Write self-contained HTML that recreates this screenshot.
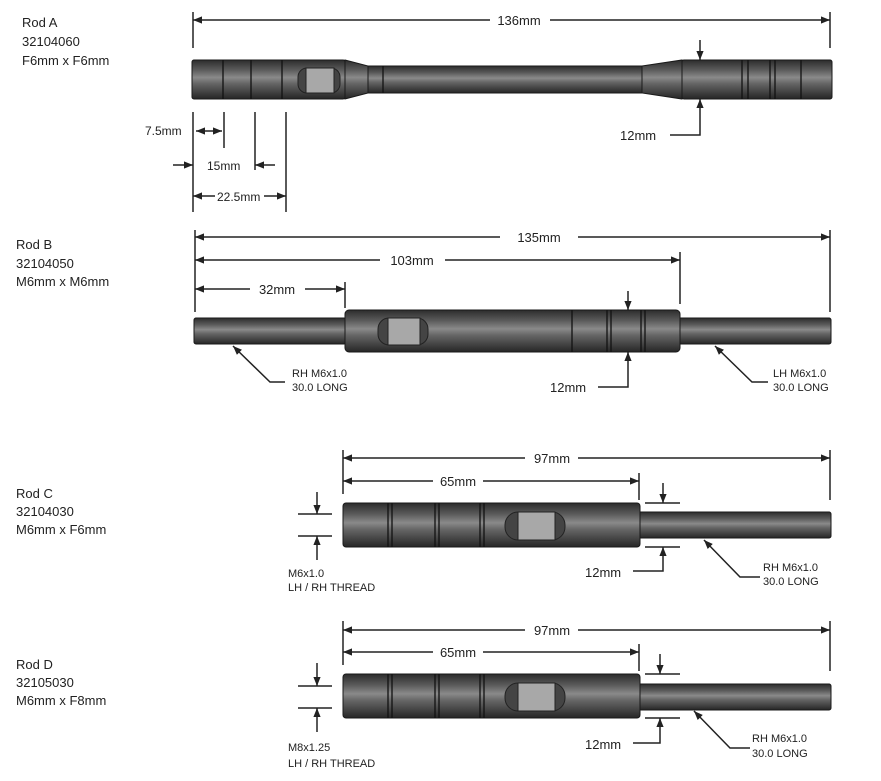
<!DOCTYPE html>
<html><head><meta charset="utf-8"><style>
html,body{margin:0;padding:0;background:#fff;}
svg{display:block;}
text{font-family:"Liberation Sans",sans-serif;fill:#222;}
</style></head><body>
<svg width="881" height="781" viewBox="0 0 881 781" xmlns="http://www.w3.org/2000/svg">
<defs>
<linearGradient id="g" x1="0" y1="0" x2="0" y2="1">
<stop offset="0" stop-color="#2c2c2c"/>
<stop offset="0.25" stop-color="#5a5a5a"/>
<stop offset="0.45" stop-color="#8a8a8a"/>
<stop offset="0.6" stop-color="#666"/>
<stop offset="1" stop-color="#262626"/>
</linearGradient>
<marker id="a" viewBox="0 0 10 10" refX="10" refY="5" markerWidth="9" markerHeight="9" orient="auto-start-reverse" markerUnits="userSpaceOnUse">
<path d="M0,1 L10,5 L0,9 Z" fill="#222"/></marker>
</defs>
<g font-size="13">
<text x="22" y="27">Rod A</text><text x="22" y="46">32104060</text><text x="22" y="65">F6mm x F6mm</text>
<text x="16" y="249">Rod B</text><text x="16" y="268">32104050</text><text x="16" y="286">M6mm x M6mm</text>
<text x="16" y="498">Rod C</text><text x="16" y="516">32104030</text><text x="16" y="534">M6mm x F6mm</text>
<text x="16" y="669">Rod D</text><text x="16" y="687">32105030</text><text x="16" y="705">M6mm x F8mm</text>
</g>
<g stroke="#222" stroke-width="1.5" fill="none">
<line x1="193" y1="12" x2="193" y2="48"/><line x1="830" y1="12" x2="830" y2="48"/>
<line x1="193" y1="20" x2="490" y2="20" marker-start="url(#a)"/><line x1="550" y1="20" x2="830" y2="20" marker-end="url(#a)"/>
<line x1="700" y1="40" x2="700" y2="60" marker-end="url(#a)"/>
<polyline points="670,135 700,135 700,99" marker-end="url(#a)"/>
<line x1="193" y1="112" x2="193" y2="212"/><line x1="224" y1="112" x2="224" y2="148"/>
<line x1="255" y1="112" x2="255" y2="170"/><line x1="286" y1="112" x2="286" y2="212"/>
<line x1="196" y1="131" x2="222" y2="131" marker-start="url(#a)" marker-end="url(#a)"/>
<line x1="173" y1="165" x2="193" y2="165" marker-end="url(#a)"/>
<line x1="275" y1="165" x2="255" y2="165" marker-end="url(#a)"/>
<line x1="193" y1="196" x2="215" y2="196" marker-start="url(#a)"/><line x1="264" y1="196" x2="286" y2="196" marker-end="url(#a)"/>
<line x1="195" y1="230" x2="195" y2="312"/><line x1="830" y1="230" x2="830" y2="312"/>
<line x1="345" y1="282" x2="345" y2="308"/><line x1="680" y1="252" x2="680" y2="304"/>
<line x1="195" y1="237" x2="500" y2="237" marker-start="url(#a)"/><line x1="578" y1="237" x2="830" y2="237" marker-end="url(#a)"/>
<line x1="195" y1="260" x2="380" y2="260" marker-start="url(#a)"/><line x1="445" y1="260" x2="680" y2="260" marker-end="url(#a)"/>
<line x1="195" y1="289" x2="250" y2="289" marker-start="url(#a)"/><line x1="305" y1="289" x2="345" y2="289" marker-end="url(#a)"/>
<line x1="628" y1="291" x2="628" y2="310" marker-end="url(#a)"/>
<polyline points="598,387 628,387 628,352" marker-end="url(#a)"/>
<polyline points="285,382 270,382 233,346" marker-end="url(#a)"/>
<polyline points="768,382 752,382 715,346" marker-end="url(#a)"/>
<line x1="343" y1="450" x2="343" y2="494"/><line x1="830" y1="450" x2="830" y2="500"/><line x1="639" y1="473" x2="639" y2="500"/>
<line x1="343" y1="458" x2="525" y2="458" marker-start="url(#a)"/><line x1="578" y1="458" x2="830" y2="458" marker-end="url(#a)"/>
<line x1="343" y1="481" x2="433" y2="481" marker-start="url(#a)"/><line x1="483" y1="481" x2="639" y2="481" marker-end="url(#a)"/>
<line x1="298" y1="514" x2="332" y2="514"/><line x1="298" y1="536" x2="332" y2="536"/>
<line x1="317" y1="492" x2="317" y2="514" marker-end="url(#a)"/><line x1="317" y1="560" x2="317" y2="536" marker-end="url(#a)"/>
<line x1="645" y1="503" x2="680" y2="503"/><line x1="645" y1="547" x2="680" y2="547"/>
<line x1="663" y1="483" x2="663" y2="503" marker-end="url(#a)"/>
<polyline points="633,571 663,571 663,547" marker-end="url(#a)"/>
<polyline points="760,577 740,577 704,540" marker-end="url(#a)"/>
<line x1="343" y1="621" x2="343" y2="665"/><line x1="830" y1="621" x2="830" y2="671"/><line x1="639" y1="644" x2="639" y2="671"/>
<line x1="343" y1="630" x2="525" y2="630" marker-start="url(#a)"/><line x1="578" y1="630" x2="830" y2="630" marker-end="url(#a)"/>
<line x1="343" y1="652" x2="433" y2="652" marker-start="url(#a)"/><line x1="483" y1="652" x2="639" y2="652" marker-end="url(#a)"/>
<line x1="298" y1="686" x2="332" y2="686"/><line x1="298" y1="708" x2="332" y2="708"/>
<line x1="317" y1="663" x2="317" y2="686" marker-end="url(#a)"/><line x1="317" y1="732" x2="317" y2="708" marker-end="url(#a)"/>
<line x1="645" y1="674" x2="680" y2="674"/><line x1="645" y1="718" x2="680" y2="718"/>
<line x1="660" y1="654" x2="660" y2="674" marker-end="url(#a)"/>
<polyline points="633,743 660,743 660,718" marker-end="url(#a)"/>
<polyline points="750,748 730,748 694,711" marker-end="url(#a)"/>
</g>
<g fill="url(#g)" stroke="#1a1a1a" stroke-width="1">
<rect x="366" y="66" width="277" height="27"/>
<path d="M642,66 L682,60 L682,99 L642,93 Z"/>
<rect x="192" y="60" width="153" height="39" rx="2"/>
<path d="M345,60 L368,66 L368,93 L345,99 Z"/>
<rect x="682" y="60" width="150" height="39" rx="2"/>
<rect x="194" y="318" width="152" height="26" rx="2"/>
<rect x="678" y="318" width="153" height="26" rx="2"/>
<rect x="345" y="310" width="335" height="42" rx="4"/>
<rect x="638" y="512" width="193" height="26" rx="2"/>
<rect x="343" y="503" width="297" height="44" rx="3"/>
<rect x="638" y="684" width="193" height="26" rx="2"/>
<rect x="343" y="674" width="297" height="44" rx="3"/>
</g>
<g stroke="#111" stroke-width="1.3">
<line x1="223" y1="60" x2="223" y2="99"/><line x1="251" y1="60" x2="251" y2="99"/><line x1="282" y1="60" x2="282" y2="99"/>
<line x1="383" y1="66" x2="383" y2="93"/>
<line x1="742" y1="60" x2="742" y2="99"/><line x1="748" y1="60" x2="748" y2="99"/><line x1="770" y1="60" x2="770" y2="99"/><line x1="775" y1="60" x2="775" y2="99"/><line x1="801" y1="60" x2="801" y2="99"/>
<line x1="572" y1="310" x2="572" y2="352"/><line x1="607" y1="310" x2="607" y2="352"/><line x1="611" y1="310" x2="611" y2="352"/><line x1="641" y1="310" x2="641" y2="352"/><line x1="645" y1="310" x2="645" y2="352"/>
<line x1="388" y1="503" x2="388" y2="547"/><line x1="392" y1="503" x2="392" y2="547"/><line x1="435" y1="503" x2="435" y2="547"/><line x1="439" y1="503" x2="439" y2="547"/><line x1="480" y1="503" x2="480" y2="547"/><line x1="484" y1="503" x2="484" y2="547"/>
<line x1="388" y1="674" x2="388" y2="718"/><line x1="392" y1="674" x2="392" y2="718"/><line x1="435" y1="674" x2="435" y2="718"/><line x1="439" y1="674" x2="439" y2="718"/><line x1="480" y1="674" x2="480" y2="718"/><line x1="484" y1="674" x2="484" y2="718"/>
</g>
<g stroke="#222" stroke-width="1">
<rect x="298" y="68" width="42" height="25" rx="9" fill="#444"/><rect x="306" y="68" width="28" height="25" fill="#a8a8a8"/>
<rect x="378" y="318" width="50" height="27" rx="11" fill="#444"/><rect x="388" y="318" width="32" height="27" fill="#a8a8a8"/>
<rect x="505" y="512" width="60" height="28" rx="13" fill="#444"/><rect x="518" y="512" width="37" height="28" fill="#a8a8a8"/>
<rect x="505" y="683" width="60" height="28" rx="13" fill="#444"/><rect x="518" y="683" width="37" height="28" fill="#a8a8a8"/>
</g>
<g font-size="12">
<text x="519" y="25" text-anchor="middle" font-size="13">136mm</text>
<text x="620" y="140" font-size="13">12mm</text>
<text x="145" y="135">7.5mm</text>
<text x="207" y="170">15mm</text>
<text x="217" y="201">22.5mm</text>
<text x="539" y="242" text-anchor="middle" font-size="13">135mm</text>
<text x="412" y="265" text-anchor="middle" font-size="13">103mm</text>
<text x="277" y="294" text-anchor="middle" font-size="13">32mm</text>
<text x="550" y="392" font-size="13">12mm</text>
<text x="292" y="377" font-size="11">RH M6x1.0</text><text x="292" y="391" font-size="11">30.0 LONG</text>
<text x="773" y="377" font-size="11">LH M6x1.0</text><text x="773" y="391" font-size="11">30.0 LONG</text>
<text x="552" y="463" text-anchor="middle" font-size="13">97mm</text>
<text x="458" y="486" text-anchor="middle" font-size="13">65mm</text>
<text x="288" y="577" font-size="11">M6x1.0</text><text x="288" y="591" font-size="11">LH / RH THREAD</text>
<text x="585" y="577" font-size="13">12mm</text>
<text x="763" y="571" font-size="11">RH M6x1.0</text><text x="763" y="585" font-size="11">30.0 LONG</text>
<text x="552" y="635" text-anchor="middle" font-size="13">97mm</text>
<text x="458" y="657" text-anchor="middle" font-size="13">65mm</text>
<text x="288" y="751" font-size="11">M8x1.25</text><text x="288" y="767" font-size="11">LH / RH THREAD</text>
<text x="585" y="749" font-size="13">12mm</text>
<text x="752" y="742" font-size="11">RH M6x1.0</text><text x="752" y="757" font-size="11">30.0 LONG</text>
</g>
</svg>
</body></html>
